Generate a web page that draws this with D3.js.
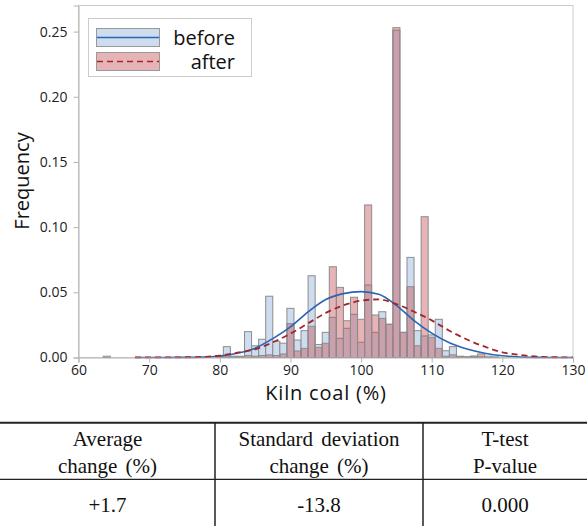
<!DOCTYPE html>
<html>
<head>
<meta charset="utf-8">
<script src="https://cdn.jsdelivr.net/npm/d3@7"></script>
<style>
  body { margin: 0; background: #fff; }
  svg { display: block; }
  .axis text { font-family: "Open Sans", "Noto Sans", sans-serif; font-size: 14px; fill: #222; }
  .axis path, .axis line { stroke: #b4b4b4; }
</style>
</head>
<body>
<svg id="chart"></svg>
<script>
// histogram bins (bin centres, width 1 %)
const bins = [64, 80, 81, 82, 83, 84, 85, 86, 87, 88, 89, 90, 91, 92, 93, 94, 95, 96, 97, 98, 99,
              100, 101, 102, 103, 104, 105, 106, 107, 108, 109, 110, 111, 112, 113, 114, 115, 116, 117, 118, 119];
const beforeFreq = [0.001, 0.001, 0.0083, 0.001, 0.001, 0.0198, 0.009, 0.014, 0.047, 0.0124, 0.011, 0.0377, 0.0134, 0.0206, 0.0627, 0.010, 0.0193, 0.0308, 0.0147, 0.0224, 0.0331,
                    0.0117, 0.0556, 0.0193, 0.0351, 0.0255, 0.251, 0.0193, 0.0768, 0.0206, 0.0165, 0.0173, 0.0293, 0.0052, 0.0083, 0.001, 0.0005, 0.001, 0.0005, 0.001, 0.0005];
const afterFreq = [0, 0.001, 0.001, 0.0005, 0.0005, 0.0015, 0.001, 0.0015, 0.002, 0.0015, 0.0027, 0.026, 0.005, 0.007, 0.024, 0.0078, 0.0109, 0.0696, 0.0538, 0.0282, 0.0462,
                   0.0293, 0.117, 0.0326, 0.030, 0.0255, 0.253, 0.0193, 0.0543, 0.009, 0.108, 0.0155, 0.007, 0.001, 0.002, 0.0005, 0.0005, 0.001, 0.0027, 0, 0];

// fitted curves
const curveX = [68, 72, 75, 78, 80, 82.5, 85, 87.5, 90, 92.5, 95, 97.5, 100, 102.5, 105, 107.5, 110, 112.5, 115, 117.5, 120, 122.5, 125, 127.5, 130];
const beforeCurve = [0, 0, 0.0001, 0.0003, 0.0011, 0.0032, 0.0071, 0.0145, 0.0235, 0.035, 0.0445, 0.049, 0.0505, 0.0485, 0.040, 0.0283, 0.0187, 0.0113, 0.0065, 0.0033, 0.0013, 0.0004, 0.0001, 0, 0];
const afterCurve = [0, 0.0001, 0.0002, 0.0005, 0.0015, 0.0037, 0.0063, 0.0116, 0.0183, 0.0262, 0.0342, 0.040, 0.0436, 0.0446, 0.041, 0.0351, 0.0285, 0.0205, 0.0138, 0.0083, 0.004, 0.0019, 0.0007, 0.0002, 0.0001];

// axis ticks
const xTicks = [60, 70, 80, 90, 100, 110, 120, 130];
const yTicks = [0, 0.05, 0.10, 0.15, 0.20, 0.25];

// legend + table text
const seriesNames = ["before", "after"];
const tableHeader = [["Average", "change (%)"], ["Standard deviation", "change (%)"], ["T-test", "P-value"]];
const tableValues = ["+1.7", "-13.8", "0.000"];

const width = 587, height = 526;
const plot = { left: 78.5, right: 573, top: 5.5, bottom: 357.5 };

const svg = d3.select("#chart").attr("width", width).attr("height", height);

const x = d3.scaleLinear().domain([60, 130]).range([plot.left, plot.right]);
const y = d3.scaleLinear().domain([0, 0.27]).range([plot.bottom, plot.top]);

// plot frame
svg.append("rect")
   .attr("x", plot.left).attr("y", plot.top)
   .attr("width", plot.right - plot.left).attr("height", plot.bottom - plot.top)
   .attr("fill", "none").attr("stroke", "#cccccc");

const barStroke = "#8c8c8c";

// before bars (light blue)
svg.append("g").selectAll("rect")
   .data(bins.map((b, i) => ({ b, v: beforeFreq[i] })).filter(d => d.v > 0))
   .enter().append("rect")
   .attr("x", d => x(d.b - 0.5))
   .attr("y", d => y(d.v))
   .attr("width", d => x(d.b + 0.5) - x(d.b - 0.5))
   .attr("height", d => y(0) - y(d.v))
   .attr("fill", "#cddcee")
   .attr("stroke", barStroke)
   .attr("stroke-width", 1);

// after bars (semi transparent red, overlap turns mauve)
svg.append("g").selectAll("rect")
   .data(bins.map((b, i) => ({ b, v: afterFreq[i] })).filter(d => d.v > 0))
   .enter().append("rect")
   .attr("x", d => x(d.b - 0.5))
   .attr("y", d => y(d.v))
   .attr("width", d => x(d.b + 0.5) - x(d.b - 0.5))
   .attr("height", d => y(0) - y(d.v))
   .attr("fill", "rgb(195,76,81)")
   .attr("fill-opacity", 0.42)
   .attr("stroke", barStroke)
   .attr("stroke-width", 1);

// fitted curves
const line = d3.line().x(d => x(d[0])).y(d => y(d[1])).curve(d3.curveMonotoneX);

svg.append("path")
   .datum(curveX.map((v, i) => [v, beforeCurve[i]]))
   .attr("d", line)
   .attr("fill", "none")
   .attr("stroke", "#2a64b2")
   .attr("stroke-width", 1.6);

svg.append("path")
   .datum(curveX.map((v, i) => [v, afterCurve[i]]))
   .attr("d", line)
   .attr("fill", "none")
   .attr("stroke", "#a3262a")
   .attr("stroke-width", 1.8)
   .attr("stroke-dasharray", "6,4");

// axes
svg.append("g")
   .attr("class", "axis")
   .attr("transform", `translate(0, ${plot.bottom})`)
   .call(d3.axisBottom(x).tickValues(xTicks).tickSize(5).tickPadding(3).tickFormat(d3.format("d")));

svg.append("g")
   .attr("class", "axis")
   .attr("transform", `translate(${plot.left}, 0)`)
   .call(d3.axisLeft(y).tickValues(yTicks).tickSize(5).tickPadding(6).tickFormat(d3.format(".2f")));

// axis titles
svg.append("text")
   .attr("x", 326).attr("y", 400)
   .attr("text-anchor", "middle")
   .style("font-family", "'Open Sans', 'Noto Sans', sans-serif")
   .style("font-size", "20px")
   .style("letter-spacing", "0.8px")
   .attr("fill", "#111")
   .text("Kiln coal (%)");

svg.append("text")
   .attr("transform", "translate(29, 181) rotate(-90)")
   .attr("text-anchor", "middle")
   .style("font-family", "'Open Sans', 'Noto Sans', sans-serif")
   .style("font-size", "20px")
   .attr("fill", "#111")
   .text("Frequency");

// legend
const legend = svg.append("g");
legend.append("rect")
   .attr("x", 88.5).attr("y", 18.5).attr("width", 163).attr("height", 58)
   .attr("fill", "#fff").attr("stroke", "#cccccc");

const swatchFill = ["#cddcee", "#e6b4b6"];
const swatchLine = ["#2a64b2", "#a3262a"];
seriesNames.forEach((name, i) => {
   const top = 28.5 + i * 24;
   legend.append("rect")
      .attr("x", 96.5).attr("y", top).attr("width", 63).attr("height", 18)
      .attr("fill", swatchFill[i]).attr("stroke", "#999");
   legend.append("line")
      .attr("x1", 97).attr("x2", 159).attr("y1", top + 9).attr("y2", top + 9)
      .attr("stroke", swatchLine[i])
      .attr("stroke-width", 1.6)
      .attr("stroke-dasharray", i === 0 ? null : "6,4");
   legend.append("text")
      .attr("x", 235).attr("y", top + 16)
      .attr("text-anchor", "end")
      .style("font-family", "'Open Sans', 'Noto Sans', sans-serif")
      .style("font-size", "20px")
      .attr("fill", "#111")
      .text(name);
});

// table under the chart
const table = svg.append("g");
const colEdges = [0, 215, 423, 587];
const tableTop = 422.7, headerBottom = 479.3;

table.append("line")
   .attr("x1", 0).attr("x2", width).attr("y1", tableTop).attr("y2", tableTop)
   .attr("stroke", "#222").attr("stroke-width", 2);
table.append("line")
   .attr("x1", 0).attr("x2", width).attr("y1", headerBottom).attr("y2", headerBottom)
   .attr("stroke", "#222").attr("stroke-width", 1.3);
[colEdges[1], colEdges[2]].forEach(cx => {
   table.append("line")
      .attr("x1", cx).attr("x2", cx).attr("y1", tableTop).attr("y2", height)
      .attr("stroke", "#222").attr("stroke-width", 1.5);
});

tableHeader.forEach((lines, i) => {
   const cx = (colEdges[i] + colEdges[i + 1]) / 2;
   lines.forEach((t, j) => {
      table.append("text")
         .attr("x", cx).attr("y", 446 + j * 27)
         .attr("text-anchor", "middle")
         .style("font-family", "'Liberation Serif', 'Times New Roman', serif")
         .style("font-size", "21px")
         .style("word-spacing", "3px")
         .attr("fill", "#111")
         .text(t);
   });
   table.append("text")
      .attr("x", cx).attr("y", 512)
      .attr("text-anchor", "middle")
      .style("font-family", "'Liberation Serif', 'Times New Roman', serif")
      .style("font-size", "21px")
      .attr("fill", "#111")
      .text(tableValues[i]);
});
</script>
</body>
</html>
